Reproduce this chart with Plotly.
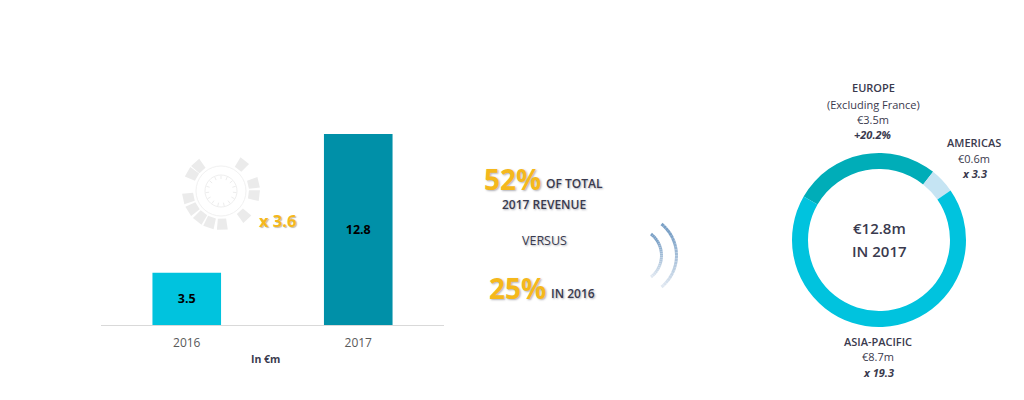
import math
import plotly.graph_objects as go

W, H = 1024, 400

# Data
years = ["2016", "2017"]
revenue = [3.5, 12.8]
bar_labels = ["3.5", "12.8"]
bar_colors = ["#00C3DE", "#0090A8"]
regions = ["Europe", "Americas", "Asia-Pacific"]
region_values = [3.5, 0.6, 8.7]
region_colors = ["#00ADB8", "#C5E4F3", "#00C3DE"]

# Decorative gear block angles (degrees clockwise from top)
gear_angles = [-42, -60, 38, 77, 97, -102, -122, -142, -161, 178, 137]

DARK = "#3A3A4E"
GOLD = "#F5B81C"
SHADOW = "1px 1px 2px rgba(60,60,80,0.4)"


def px(x):
    return x / W


def py(y):
    return 1 - y / H


fig = go.Figure()
fig.add_trace(go.Bar(
    x=years, y=revenue, marker=dict(color=bar_colors, line=dict(width=0)),
    text=bar_labels, textposition="inside", insidetextanchor="middle", textangle=0,
    textfont=dict(family="Open Sans", size=12.5, color="#000000", weight="bold"),
    hoverinfo="skip", width=0.4, xaxis="x", yaxis="y", cliponaxis=False,
))
fig.add_trace(go.Pie(
    labels=regions, values=region_values, sort=False, direction="clockwise", rotation=-60,
    hole=0.816, marker=dict(colors=region_colors, line=dict(width=0)),
    textinfo="none", showlegend=False, hoverinfo="skip",
    domain=dict(x=[px(792), px(966)], y=[py(327), py(153)]),
))

annotations = []


def label(text, x, y, size=11, color=DARK, bold=False, italic=False, shadow=None, weight=None):
    font = dict(family="Open Sans", size=size, color=color,
                weight=weight or ("bold" if bold else "normal"), style="italic" if italic else "normal")
    if shadow:
        font["shadow"] = shadow
    annotations.append(dict(text=text, x=px(x), y=py(y), xref="paper", yref="paper",
                            xanchor="center", yanchor="middle", showarrow=False, font=font))


label("In €m", 265, 359, 10.5, bold=True)
label("x 3.6", 277, 220, 16.5, GOLD, bold=True, shadow="1px 1px 1px rgba(90,70,0,0.35)")
label("52%", 512, 179, 28, GOLD, bold=True, shadow=SHADOW)
label("OF TOTAL", 574, 183, 12, weight=600, shadow=SHADOW)
label("2017 REVENUE", 544, 204, 12, weight=600, shadow=SHADOW)
label("VERSUS", 544, 240, 12.5, shadow=SHADOW)
label("25%", 517, 288, 28, GOLD, bold=True, shadow=SHADOW)
label("IN 2016", 573, 293, 12, weight=600, shadow=SHADOW)
label("EUROPE", 873, 88, 11, weight=600)
label("(Excluding France)", 873, 104, 11)
label("€3.5m", 873, 119, 11)
label("+20.2%", 873, 134, 11, bold=True, italic=True)
label("AMERICAS", 974, 142, 11, weight=600)
label("€0.6m", 974, 158, 11)
label("x 3.3", 974, 173, 11, bold=True, italic=True)
label("€12.8m", 879, 228, 15, weight=600)
label("IN 2017", 879, 251, 15, weight=600)
label("ASIA-PACIFIC", 878, 341, 11, weight=600)
label("€8.7m", 878, 356, 11)
label("x 19.3", 878, 372, 11, bold=True, italic=True)

shapes = []
GX, GY = 221, 191


def polar(r, deg):
    a = math.radians(deg)
    return GX + r * math.sin(a), GY - r * math.cos(a)


def paper_path(pts, close=False):
    s = "M " + " L ".join(f"{px(x):.5f} {py(y):.5f}" for x, y in pts)
    return s + (" Z" if close else "")


for ang in gear_angles:
    pts = [polar(28, ang - 8.5), polar(39, ang - 8), polar(39, ang + 8), polar(28, ang + 8.5)]
    shapes.append(dict(type="path", xref="paper", yref="paper", path=paper_path(pts, True),
                       fillcolor="#EBEBEB", line=dict(width=0), layer="below"))

for r, c in ((25, "#F1F1F1"), (16, "#EFEFEF")):
    pts = [polar(r, d) for d in range(0, 360, 10)]
    shapes.append(dict(type="path", xref="paper", yref="paper", path=paper_path(pts, True),
                       line=dict(color=c, width=1), layer="below"))
for d in range(0, 360, 24):
    shapes.append(dict(type="path", xref="paper", yref="paper",
                       path=paper_path([polar(12, d), polar(15.5, d)]),
                       line=dict(color="#EDEDED", width=1), layer="below"))


def arc(x_end, y_top, y_bot, x_bulge, width=3):
    ym = (y_top + y_bot) / 2
    h = (y_bot - y_top) / 2
    s = x_bulge - x_end
    r = (h * h + s * s) / (2 * s)
    cx = x_bulge - r
    n = 24
    a0 = math.asin(h / r)
    prev = None
    for i in range(n + 1):
        t = i / n
        a = -a0 + 2 * a0 * t
        p = (cx + r * math.cos(a), ym + r * math.sin(a))
        if prev:
            c0 = (122, 160, 198)
            c1 = (224, 232, 241)
            u = max(0, (t - 0.2) / 0.8)
            col = tuple(round(c0[k] + (c1[k] - c0[k]) * u) for k in range(3))
            shapes.append(dict(type="path", xref="paper", yref="paper", path=paper_path([prev, p]),
                               line=dict(color=f"rgb{col}", width=width)))
        prev = p


arc(661.5, 224, 287, 676.5)
arc(651, 234, 277, 661.5)

fig.update_layout(
    width=W, height=H, autosize=False,
    margin=dict(l=0, r=0, t=0, b=0),
    paper_bgcolor="#FFFFFF", plot_bgcolor="rgba(0,0,0,0)",
    showlegend=False, bargap=0.6,
    xaxis=dict(domain=[px(101), px(444)], type="category", showgrid=False, zeroline=False,
               showline=True, linecolor="#D9D9D9", linewidth=1.3, ticks="outside", ticklen=6,
               tickcolor="rgba(0,0,0,0)", tickfont=dict(family="Open Sans", size=12, color="#595959"),
               anchor="y", fixedrange=True),
    yaxis=dict(domain=[py(325), py(325 - 15 * 191 / 12.8)], range=[0, 15], visible=False, fixedrange=True),
    annotations=annotations, shapes=shapes,
)

fig.write_html("out.html", config={"displayModeBar": False},
               post_script="document.body.style.margin='0';document.body.style.overflow='hidden';")
